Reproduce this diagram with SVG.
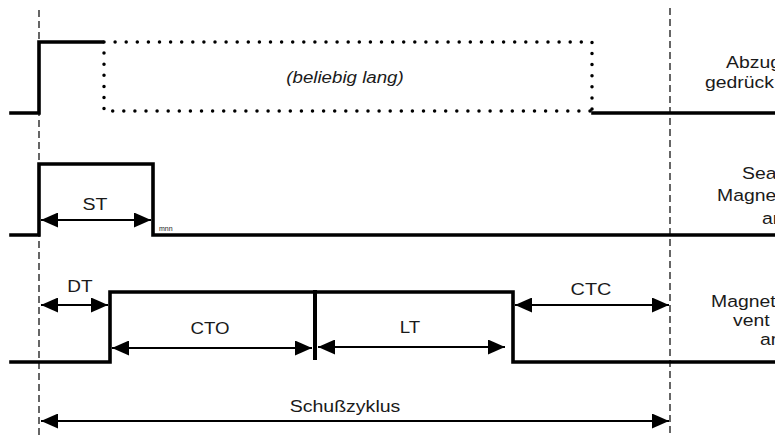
<svg xmlns="http://www.w3.org/2000/svg" width="775" height="436" viewBox="0 0 775 436">
<style>
.sig{fill:none;stroke:#000;stroke-width:3.6;stroke-linejoin:miter;stroke-linecap:square}
.dot{fill:none;stroke:#000;stroke-width:3.5;stroke-linecap:round;stroke-dasharray:0 11.1}
.dash{fill:none;stroke:#000;stroke-width:1.2;stroke-dasharray:7 4}
.arr{fill:none;stroke:#000;stroke-width:1.8;marker-start:url(#ah);marker-end:url(#ah)}
.t{font-family:"Liberation Sans",Arial,sans-serif;font-size:17px;fill:#1a1a1a}
.m{text-anchor:middle}
.i{font-style:italic}
</style>
<defs>
<marker id="ah" viewBox="0 0 17 15" refX="17" refY="7.5" markerWidth="17" markerHeight="15" markerUnits="userSpaceOnUse" orient="auto-start-reverse">
<path d="M0,0 L17,7.5 L0,15 Z" fill="#000"/>
</marker>
</defs>
<rect width="775" height="436" fill="#fff"/>
<g id="guides">
<line class="dash" x1="39" y1="10" x2="39" y2="436"/>
<line class="dash" x1="670" y1="8" x2="670" y2="436"/>
</g>
<g id="signal-abzug">
<polyline class="sig" points="11,113 39,113 39,42 102,42"/>
<path class="dot" d="M104,42 H592 V113 M104,42 V111 H592"/>
<polyline class="sig" points="593,113 775,113"/>
</g>
<g id="signal-sear">
<polyline class="sig" points="11,235 39,235 39,164 153,164 153,235 775,235"/>
</g>
<g id="signal-ventil">
<polyline class="sig" points="11,362 110,362 110,292 513,292 513,362 775,362"/>
<line class="sig" x1="315" y1="292" x2="315" y2="358" style="stroke-width:4"/>
</g>
<g id="connectors">
<line class="arr" x1="41" y1="220" x2="151" y2="220"/>
<line class="arr" x1="41" y1="305" x2="108" y2="305"/>
<line class="arr" x1="112" y1="348" x2="312" y2="348"/>
<line class="arr" x1="318" y1="347" x2="505" y2="347"/>
<line class="arr" x1="515" y1="305" x2="669" y2="305"/>
<line class="arr" x1="41" y1="421" x2="669" y2="421"/>
</g>
<g id="labels">
<text class="t m i" transform="translate(345,83) scale(1.1 1)">(beliebig lang)</text>
<text class="t m" transform="translate(95,210) scale(1.15 1)">ST</text>
<text style="font-family:'Liberation Sans',Arial,sans-serif;font-size:7px;fill:#222" x="159" y="231">mnn</text>
<text class="t m" transform="translate(80,292) scale(1.12 1)">DT</text>
<text class="t m" transform="translate(210,334) scale(1.1 1)">CTO</text>
<text class="t m" transform="translate(410,333) scale(1.1 1)">LT</text>
<text class="t m" transform="translate(591,295) scale(1.17 1)">CTC</text>
<text class="t m" transform="translate(345,412) scale(1.15 1)">Schußzyklus</text>
<text class="t" transform="translate(726,68) scale(1.14 1)">Abzug</text>
<text class="t" transform="translate(705,88) scale(1.14 1)">gedrück</text>
<text class="t" transform="translate(742,179) scale(1.14 1)">Sea</text>
<text class="t" transform="translate(717,201) scale(1.14 1)">Magne</text>
<text class="t" transform="translate(762,224) scale(1.14 1)">an</text>
<text class="t" transform="translate(711,307) scale(1.14 1)">Magnet</text>
<text class="t" transform="translate(733,326) scale(1.14 1)">vent</text>
<text class="t" transform="translate(760,345) scale(1.14 1)">an</text>
</g>
</svg>
